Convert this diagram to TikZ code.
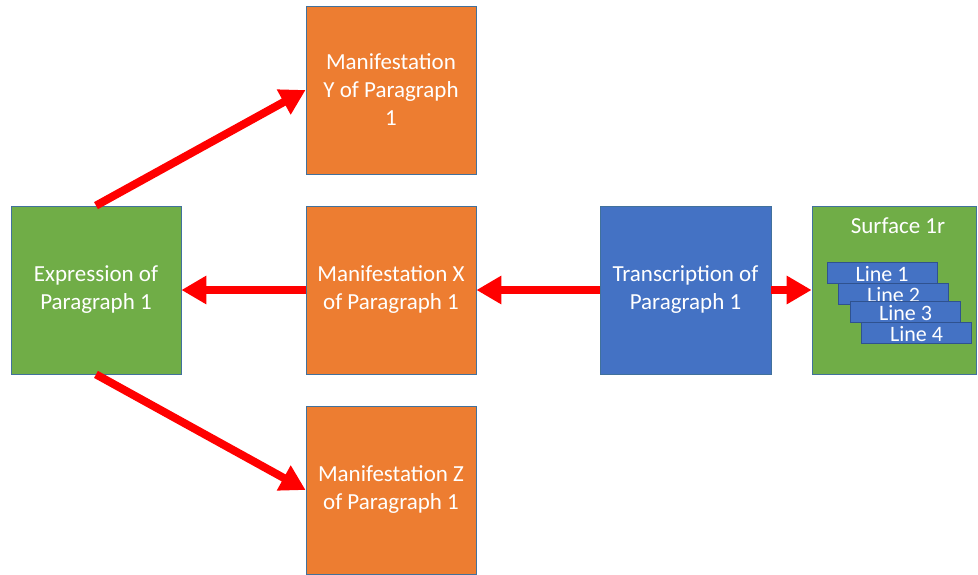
\documentclass[tikz,border=0pt]{standalone}
\usepackage{fontspec}
\setmainfont{Carlito}
\usetikzlibrary{arrows.meta}
\definecolor{grn}{HTML}{70AD47}
\definecolor{org}{HTML}{ED7D31}
\definecolor{blu}{HTML}{4472C4}
\definecolor{bord}{HTML}{41719C}
\definecolor{lbord}{HTML}{2F528F}
\begin{document}
\begin{tikzpicture}[x=1pt,y=-1pt,
  box/.style={draw=bord,line width=0.8pt,minimum width=170pt,minimum height=168pt,inner sep=0pt,align=center,text=white,font=\fontsize{23}{28}\selectfont},
  linebox/.style={draw=lbord,line width=0.8pt,fill=blu,minimum width=110pt,minimum height=21pt,inner sep=0pt,text height=17pt,text depth=0pt,text=white,font=\fontsize{22}{24}\selectfont},
  redarrow/.style={draw=red,line width=8pt,-{Triangle[length=25pt,width=27pt]}}]
\useasboundingbox (0,0) rectangle (978,574);
\node[box,fill=grn] (expr) at (96,290) {Expression of\\Paragraph 1};
\node[box,fill=org] (manY) at (391,90) {Manifestation\\Y of Paragraph\\1};
\node[box,fill=org] (manX) at (391,290) {Manifestation X\\of Paragraph 1};
\node[box,fill=org] (manZ) at (391,490) {Manifestation Z\\of Paragraph 1};
\node[box,fill=blu,minimum width=171pt] (trans) at (685.5,290) {Transcription of\\Paragraph 1};
\node[box,fill=grn,minimum width=164pt] (surf) at (894,290) {};
\node[anchor=base,text=white,font=\fontsize{23}{28}\selectfont,inner sep=0pt] (surft) at (898,233) {Surface 1r};
\node[linebox] (l1) at (882,272.5) {Line 1};
\node[linebox] (l2) at (893.5,293.5) {Line 2};
\node[linebox] (l3) at (905.5,312) {Line 3};
\node[linebox] (l4) at (916.5,332.5) {Line 4};
\draw[redarrow] (manX.west) -- (expr.east);
\draw[redarrow] (trans.west) -- (manX.east);
\draw[redarrow] (trans.east) -- (surf.west);
\draw[redarrow] (expr.north) -- (manY.west);
\draw[redarrow] (expr.south) -- (manZ.west);
\end{tikzpicture}
\end{document}
